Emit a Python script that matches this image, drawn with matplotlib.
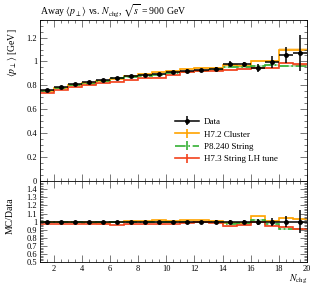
import numpy as np
import matplotlib
matplotlib.use("Agg")
import matplotlib.pyplot as plt
from matplotlib.ticker import MultipleLocator

plt.rcParams['font.family'] = ['Liberation Serif', 'DejaVu Serif']
plt.rcParams['mathtext.fontset'] = 'stix'

# Data: bins of N_chg from 1 to 20
edges = np.arange(1, 21)
centers = edges[:-1] + 0.5
data = [0.762, 0.785, 0.808, 0.825, 0.848, 0.866, 0.876, 0.889, 0.897, 0.912,
        0.924, 0.926, 0.937, 0.982, 0.976, 0.943, 0.998, 1.055, 1.068]
data_err = [0.008, 0.007, 0.007, 0.007, 0.007, 0.007, 0.008, 0.008, 0.009, 0.010,
            0.011, 0.012, 0.014, 0.018, 0.022, 0.035, 0.05, 0.07, 0.15]

h72 = [0.754, 0.777, 0.805, 0.817, 0.838, 0.857, 0.880, 0.893, 0.910, 0.921,
       0.938, 0.945, 0.944, 0.970, 0.965, 1.006, 1.006, 1.100, 1.100]
p8 = [0.755, 0.778, 0.800, 0.815, 0.840, 0.858, 0.868, 0.880, 0.889, 0.905,
      0.915, 0.920, 0.930, 0.955, 0.955, 0.960, 0.972, 0.960, 0.965]
h73 = [0.739, 0.761, 0.784, 0.800, 0.818, 0.831, 0.845, 0.858, 0.866, 0.885,
       0.910, 0.917, 0.923, 0.928, 0.935, 0.943, 0.948, 0.985, 0.975]
mc_err = [0.003, 0.003, 0.003, 0.003, 0.003, 0.003, 0.004, 0.004, 0.004, 0.004,
          0.005, 0.005, 0.006, 0.006, 0.007, 0.008, 0.009, 0.010, 0.012]

labels = ["H7.2 Cluster", "P8.240 String", "H7.3 String LH tune"]
colors = ["#ffa300", "#35b035", "#f2421c"]
styles = ["-", "-.", "-"]

data = np.array(data)
data_err = np.array(data_err)
mc_err = np.array(mc_err)

fig = plt.figure(figsize=(3.19, 2.88), dpi=100)
ax = fig.add_axes([0.125, 0.371, 0.837, 0.561])
rax = fig.add_axes([0.125, 0.090, 0.837, 0.281], sharex=ax)

handles = []
for vals, lab, c, ls in zip([h72, p8, h73], labels, colors, styles):
    vals = np.array(vals)
    ax.stairs(vals + mc_err, edges, baseline=vals - mc_err, fill=True, color=c, alpha=0.3, lw=0)
    ax.stairs(vals, edges, baseline=None, color=c, lw=1.2, ls=ls)
    r = vals / data
    rerr = mc_err / data
    rax.stairs(r + rerr, edges, baseline=r - rerr, fill=True, color=c, alpha=0.3, lw=0)
    rax.stairs(r, edges, baseline=None, color=c, lw=1.2, ls=ls)
    h = ax.errorbar([np.nan], [np.nan], yerr=[np.nan], fmt=ls, color=c, lw=1.2)
    handles.append(h)

# data points
ax.errorbar(centers, data, xerr=0.5, yerr=data_err, fmt='o', color='k', ms=2.5,
            elinewidth=1.1, capsize=0, zorder=5)
ones = np.ones_like(data)
rax.errorbar(centers, ones, xerr=0.5, yerr=data_err / data, fmt='o', color='k', ms=2.5,
             elinewidth=1.1, capsize=0, zorder=5)
hdata = ax.errorbar([np.nan], [np.nan], yerr=[np.nan], fmt='-o', color='k', ms=2.5, lw=1.1)

ax.legend([hdata] + handles, ["Data"] + labels, loc='upper left',
          bbox_to_anchor=(0.49, 0.42), frameon=False, fontsize=6.5,
          handlelength=2.6, handletextpad=0.6, labelspacing=0.45, borderpad=0)

ax.set_xlim(1, 20)
ax.set_ylim(0, 1.35)
rax.set_ylim(0.5, 1.5)

for a in (ax, rax):
    a.tick_params(which='both', direction='in', top=True, right=True, labelsize=6,
                  width=0.5, color='#444444', pad=2)
    a.tick_params(which='major', length=5)
    a.tick_params(which='minor', length=2.5)
    a.xaxis.set_major_locator(MultipleLocator(2))
    a.xaxis.set_minor_locator(MultipleLocator(0.5))
    for s in a.spines.values():
        s.set_linewidth(0.6)

ax.yaxis.set_major_locator(MultipleLocator(0.2))
ax.yaxis.set_minor_locator(MultipleLocator(0.05))
ax.yaxis.set_major_formatter(plt.FuncFormatter(lambda v, p: f"{v:g}"))
rax.yaxis.set_major_locator(MultipleLocator(0.1))
rax.yaxis.set_minor_locator(MultipleLocator(0.02))
rax.yaxis.set_major_formatter(plt.FuncFormatter(lambda v, p: f"{v:g}" if v < 1.45 else ""))
plt.setp(ax.get_xticklabels(), visible=False)

ax.set_title(r"Away $\langle p_\perp\rangle$ vs. $N_\mathrm{chg}$, $\sqrt{s}$ = 900 GeV",
             loc='left', fontsize=7, pad=4)
fig.text(0.018, 1 - 28 / 288, r"$\langle p_\perp\rangle$ [GeV]", rotation=90,
         va='top', ha='left', fontsize=7)
fig.text(0.018, 1 - 198 / 288, "MC/Data", rotation=90, va='top', ha='left', fontsize=7)
fig.text(0.962, 1 - 286 / 288, r"$N_\mathrm{chg}$", ha='right', va='bottom', fontsize=7)

fig.savefig("out.png", dpi=100)
